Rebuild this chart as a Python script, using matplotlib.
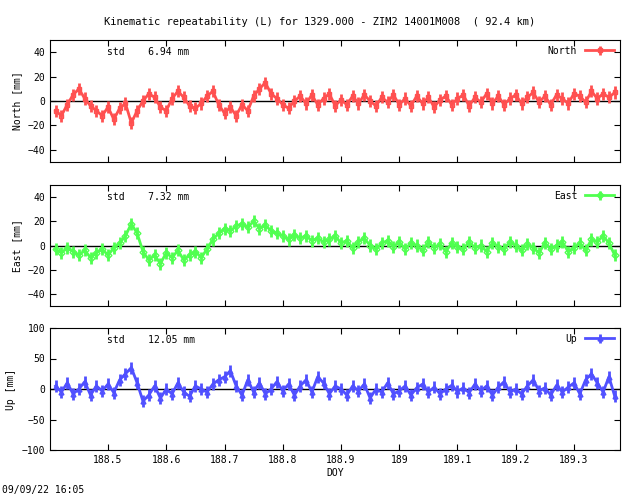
import matplotlib
matplotlib.use('Agg')
import matplotlib.pyplot as plt
import numpy as np

# ── Data (0.01 day spacing) ─────────────────────────────────────────────
doy = np.round(np.arange(188.41, 189.375, 0.01), 2)

north = [-8, -12, -3, 5, 10, 2, -4, -8, -12, -5, -15, -6, -2, -18, -8, 0, 6, 3, -5, -8,
         2, 8, 3, -4, -6, -2, 4, 8, -3, -10,
         -5, -12, -3, -8, 4, 10, 15, 6, 2, -3,
         -6, 0, 4, -2, 5, -3, 2, 6, -4, 1,
         -3, 4, -2, 5, 0, -4, 3, -1, 5, -3,
         2, -4, 4, -2, 3, -5, 1, 4, -3, 2,
         5, -4, 3, -1, 6, -2, 4, -3, 2, 5,
         -2, 3, 7, -1, 4, -3, 5, 2, -2, 6,
         4, -1, 8, 2, 6, 3, 7]
east = [-3, -6, -2, -5, -8, -4, -10, -6, -3, -8,
        -2, 2, 8, 18, 10, -5, -12, -8, -15, -6,
        -10, -4, -12, -8, -5, -10, -3, 5, 10, 14,
        12, 16, 18, 15, 20, 14, 17, 12, 10, 8,
        5, 9, 6, 8, 4, 6, 3, 5, 8, 2,
        4, -2, 3, 6, 0, -3, 2, 4, -1, 3,
        -3, 2, 0, -4, 3, -2, 1, -5, 2, -1,
        -3, 3, -2, 0, -5, 2, -1, -3, 3, 0,
        -4, 1, -2, -6, 2, -3, 0, 3, -5, -2,
        2, -4, 5, 3, 8, 2, -8]
up = [5, -5, 10, -8, 0, 12, -10, 5, -3, 8,
      -6, 15, 25, 35, 10, -20, -10, 5, -15, 0,
      -8, 10, -5, -12, 5, 0, -5, 8, 15, 20,
      30, 5, -10, 15, -5, 10, -8, 0, 12, -3,
      8, -10, 5, 15, -5, 20, 10, -8, 5, 0,
      -10, 5, -3, 8, -15, 0, -5, 10, -8, -3,
      5, -10, 2, 8, -5, 3, -8, 0, 6, -4,
      2, -6, 8, -3, 5, -10, 3, 12, -5, 0,
      -8, 5, 15, -3, 2, -10, 6, -5, 3, 10,
      -8, 15, 25, 10, -5, 20, -12]

panels = [
    ("North", north, "#ff5050", "s", "6.94", (-50, 50), [-40, -20, 0, 20, 40], "North [mm]", 5),
    ("East", east, "#50ff50", "D", "7.32", (-50, 50), [-40, -20, 0, 20, 40], "East [mm]", 5),
    ("Up", up, "#5050ff", "^", "12.05", (-100, 100), [-100, -50, 0, 50, 100], "Up [mm]", 10),
]
xticks = [188.5, 188.6, 188.7, 188.8, 188.9, 189, 189.1, 189.2, 189.3]

plt.rcParams['font.family'] = 'DejaVu Sans Mono'
plt.rcParams['font.size'] = 7

fig = plt.figure(figsize=(6.4, 4.96), dpi=100)
boxes = [(40, 162), (185, 306), (328, 450)]
for (name, vals, col, mk, std, ylim, yt, ylab, err), (top, bot) in zip(panels, boxes):
    ax = fig.add_axes([50 / 640, 1 - bot / 496, 570 / 640, (bot - top) / 496])
    ax.axhline(0, color='black', lw=1)
    ax.errorbar(doy, vals, yerr=err, color=col, marker=mk, ms=3.5, mfc='none',
                lw=2, elinewidth=2, capsize=0, label=name)
    ax.set_xlim(188.4004, 189.379)
    ax.set_ylim(*ylim)
    ax.set_yticks(yt)
    ax.set_xticks(xticks)
    ax.set_xticklabels([f"{t:g}" for t in xticks] if name == "Up" else [])
    ax.tick_params(direction='in', top=True, right=True, length=4)
    ax.set_ylabel(ylab)
    ax.text(0.1, 0.9, f"std    {std} mm", transform=ax.transAxes, va='center')
    leg = ax.legend(loc='upper right', frameon=False, handlelength=3,
                    markerfirst=False, borderaxespad=0.2)
    if name == "Up":
        ax.set_xlabel("DOY", labelpad=2)

fig.text(0.5, 1 - 22 / 496, "Kinematic repeatability (L) for 1329.000 - ZIM2 14001M008  ( 92.4 km)",
         ha='center', va='center', fontsize=7.5)
fig.text(2 / 640, 1 - 490 / 496, "09/09/22 16:05", ha='left', va='center')

fig.savefig('out.png', dpi=100, facecolor='white')
